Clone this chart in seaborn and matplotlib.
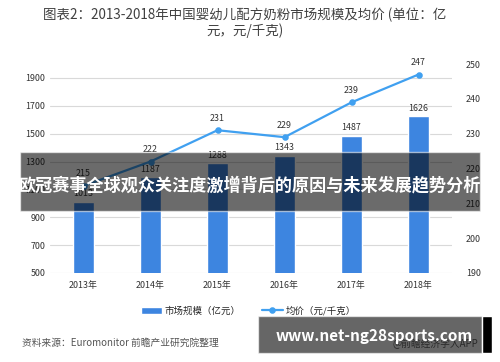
import pandas as pd
import numpy as np
import matplotlib.pyplot as plt
import seaborn as sns
from matplotlib.patches import Rectangle

years = ["2013年", "2014年", "2015年", "2016年", "2017年", "2018年"]
market_size = [1013, 1187, 1288, 1343, 1487, 1626]   # 亿元
avg_price = [215, 222, 231, 229, 239, 247]           # 元/千克

sns.set_style("white")
plt.rcParams['font.family'] = ['Noto Sans CJK SC', 'DejaVu Sans']

df = pd.DataFrame({"year": years, "size": market_size, "price": avg_price})

fig = plt.figure(figsize=(5, 3.62), dpi=100)
ax = fig.add_axes([0.1, 0.246, 0.804, 0.577])

sns.barplot(data=df, x="year", y="size", color="#3d85e0", width=0.31,
            saturation=1, ax=ax, label="市场规模（亿元）")
ax.set_ylim(500, 2000)
ax.set_yticks(range(500, 2000, 200))
ax.set_xlim(-0.5, 5.5)
ax.yaxis.grid(True, color="#d9d9d9", linewidth=0.8)
ax.set_axisbelow(True)
ax.set_xlabel("")
ax.set_ylabel("")
for s in ax.spines.values():
    s.set_visible(False)
ax.tick_params(axis="both", length=0, labelsize=6.4, colors="#333333")
ax.tick_params(axis="x", pad=6)
for i, v in enumerate(df["size"]):
    ax.text(i, v + 25, str(v), ha="center", va="bottom", fontsize=6.4, color="#333333")

ax2 = ax.twinx()
sns.pointplot(data=df, x="year", y="price", color="#40a0f0", ax=ax2,
              markers="o", markersize=3.5, linewidth=1.6, label="均价（元/千克）")
if ax2.get_legend() is not None:
    ax2.get_legend().remove()
ax2.set_ylim(190, 250)
ax2.set_yticks(range(190, 251, 10))
ax2.set_xlim(-0.5, 5.5)
ax2.set_ylabel("")
ax2.grid(False)
for s in ax2.spines.values():
    s.set_visible(False)
ax2.tick_params(axis="y", length=0, labelsize=6.4, colors="#333333", pad=10)
for i, v in enumerate(df["price"]):
    ax2.text(i, v + 2.2, str(v), ha="center", va="bottom", fontsize=6.4, color="#333333")

h1, l1 = ax.get_legend_handles_labels()
h2, l2 = ax2.get_legend_handles_labels()
ax.legend(h1 + h2, l1 + l2, loc="center", bbox_to_anchor=(0.497, 0.141),
          bbox_transform=fig.transFigure, ncol=2, frameon=False,
          fontsize=6.8, handlelength=2.2, columnspacing=2.2, handletextpad=0.3)

fig.text(0.49, 0.96, "图表2：2013-2018年中国婴幼儿配方奶粉市场规模及均价 (单位：亿",
         ha="center", va="center", fontsize=9.7, color="#404040")
fig.text(0.49, 0.916, "元，元/千克)", ha="center", va="center", fontsize=9.7, color="#404040")
fig.text(0.044, 0.052, "资料来源：Euromonitor 前瞻产业研究院整理",
         ha="left", va="center", fontsize=7, color="#555555")

# overlay banners
fig.patches.append(Rectangle((0.04, 1 - 211 / 362), 0.92, 59 / 362, transform=fig.transFigure,
                             facecolor="black", alpha=0.58, zorder=10))
fig.text(0.5, 1 - 185 / 362, "欧冠赛事全球观众关注度激增背后的原因与未来发展趋势分析",
         ha="center", va="center", fontsize=12.3, fontweight="bold", color="white", zorder=11)
fig.text(0.87, 1 - 344 / 362, "@前瞻经济学人APP", ha="center", va="center",
         fontsize=7, color="#666666", zorder=9)
fig.patches.append(Rectangle((0.516, 1 - 353 / 362), 0.448, 37 / 362, transform=fig.transFigure,
                             facecolor="black", alpha=0.6, zorder=10))
fig.patches.append(Rectangle((0.964, 1 - 353 / 362), 0.02, 37 / 362, transform=fig.transFigure,
                             facecolor="black", zorder=10))
fig.text(0.748, 1 - 336 / 362, "www.net-ng28sports.com", ha="center", va="center",
         fontsize=11, fontweight="bold", color="white", zorder=11)

fig.savefig("out.png", dpi=100)
